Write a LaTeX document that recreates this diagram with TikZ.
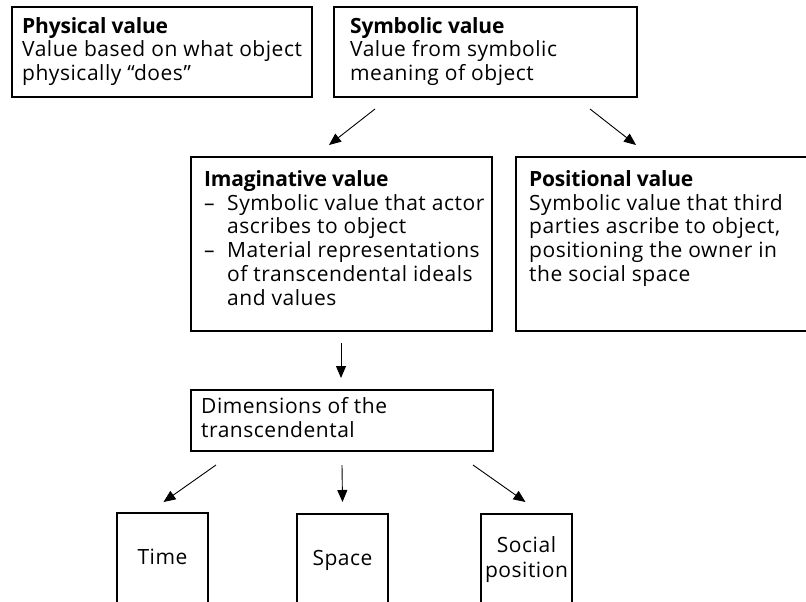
\documentclass[tikz,border=0pt]{standalone}
\usepackage{fontspec}
\setmainfont{Open Sans}[LetterSpace=2.5, BoldFeatures={LetterSpace=-1}]
\usetikzlibrary{arrows.meta,calc}
\newcommand{\fl}{\rule{0pt}{17pt}}
\begin{document}
\begin{tikzpicture}[x=1pt,y=-1pt,
  box/.style={draw, line width=1.2pt, inner sep=0pt, outer sep=0pt, anchor=north west},
  txt/.style={inner sep=0pt, anchor=north west, align=left, font=\fontsize{21}{23.8}\selectfont},
  ctxt/.style={inner sep=0pt, anchor=north, align=center, font=\fontsize{21}{25}\selectfont},
  arr/.style={line width=0.9pt, -{Triangle[length=12pt,width=10pt]}}]
\useasboundingbox (0,0) rectangle (806,602);
\clip (0,0) rectangle (806,602);
% boxes
\node[box, minimum width=300, minimum height=90] (phys) at (12,7) {};
\node[box, minimum width=303, minimum height=90] (sym) at (334,7) {};
\node[box, minimum width=301, minimum height=174] (imag) at (191,157) {};
\node[box, minimum width=300, minimum height=174] (pos) at (516,157) {};
\node[box, minimum width=302, minimum height=61] (dims) at (191,390) {};
\node[box, minimum width=91, minimum height=100] (time) at (117,513) {};
\node[box, minimum width=91, minimum height=100] (space) at (297,514) {};
\node[box, minimum width=91, minimum height=100] (social) at (481,514) {};
% texts
\node[txt] (physT) at ($(phys.north west)+(10,9)$) {\fl\textbf{Physical value}\\Value based on what object\\physically “does”};
\node[txt] (symT) at ($(sym.north west)+(16,9)$) {\fl\textbf{Symbolic value}\\Value from symbolic\\meaning of object};
\node[txt] (imagT) at ($(imag.north west)+(13,12)$) {\fl\textbf{Imaginative value}\\\makebox[23pt][l]{–}Symbolic value that actor\\\hspace*{23pt}ascribes to object\\\makebox[23pt][l]{–}Material representations\\\hspace*{23pt}of transcendental ideals\\\hspace*{23pt}and values};
\node[txt] (posT) at ($(pos.north west)+(13,12)$) {\fl\textbf{Positional value}\\Symbolic value that third\\parties ascribe to object,\\positioning the owner in\\the social space};
\node[txt] (dimsT) at ($(dims.north west)+(10,6)$) {\fl Dimensions of the\\transcendental};
\node[ctxt] (timeT) at ($(time.north)+(0,34)$) {\fl Time};
\node[ctxt] (spaceT) at ($(space.north)+(0,34)$) {\fl Space};
\node[ctxt] (socialT) at ($(social.north)+(0,21)$) {\fl Social\\position};
% connectors
\draw[arr] ($(sym.south west)+(41,12)$) -- ($(imag.north west)+(138,-12)$);
\draw[arr] ($(sym.south west)+(256,12)$) -- ($(pos.north west)+(120,-12)$);
\draw[arr] ($(imag.south west)+(150,12)$) -- ($(dims.north west)+(150,-12)$);
\draw[arr] ($(dims.south west)+(25,14)$) -- ($(time.north)+(1,-11)$);
\draw[arr] ($(dims.south west)+(151,14)$) -- ($(space.north)+(0,-12)$);
\draw[arr] ($(dims.south west)+(282,14)$) -- ($(social.north)+(-1,-12)$);
\end{tikzpicture}
\end{document}
